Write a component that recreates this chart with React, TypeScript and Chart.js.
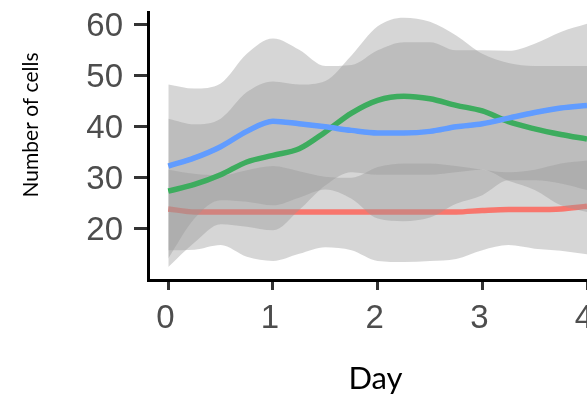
import React, { useEffect, useRef } from 'react';
import { Chart, registerables } from 'chart.js';

Chart.register(...registerables);

// Day positions of the sampled curves
const days = [0, 0.25, 0.5, 0.75, 1, 1.25, 1.5, 1.75, 2, 2.25, 2.5, 2.75, 3, 3.25, 3.5, 3.75, 4];

// Mean lines
const redMean = [23.8, 23.2, 23.2, 23.2, 23.2, 23.2, 23.2, 23.2, 23.2, 23.2, 23.2, 23.2, 23.5, 23.7, 23.7, 23.8, 24.3];
const greenMean = [27.3, 28.6, 30.5, 33.0, 34.3, 35.6, 38.9, 42.6, 45.1, 45.9, 45.4, 44.1, 43.0, 40.9, 39.5, 38.4, 37.5];
const blueMean = [32.2, 33.8, 36.0, 39.0, 41.0, 40.5, 39.9, 39.2, 38.7, 38.7, 39.0, 39.9, 40.5, 41.6, 42.7, 43.6, 44.1];

// Confidence ribbons
const redLower = [15.7, 15.8, 16.7, 14.4, 13.6, 15.0, 16.3, 15.7, 13.6, 13.4, 13.6, 14.0, 15.7, 16.7, 16.0, 15.6, 14.9];
const redUpper = [31.5, 30.7, 30.4, 31.4, 32.2, 31.2, 30.1, 29.9, 32.0, 32.7, 32.7, 32.2, 31.5, 31.0, 31.5, 32.7, 33.3];
const greenLower = [12.4, 17.2, 20.8, 20.3, 19.6, 23.6, 28.4, 31.0, 30.5, 30.5, 30.5, 31.0, 31.5, 29.3, 27.5, 24.5, 23.2];
const greenUpper = [41.5, 40.4, 41.5, 46.7, 48.8, 48.2, 48.9, 53.9, 59.6, 61.3, 60.5, 57.8, 54.2, 52.4, 51.8, 51.8, 51.8];
const blueLower = [14.1, 21.9, 25.5, 25.2, 24.5, 26.0, 27.6, 25.8, 21.9, 21.4, 22.1, 24.8, 26.5, 29.4, 29.4, 28.8, 27.5];
const blueUpper = [48.2, 47.4, 48.4, 54.2, 57.2, 55.0, 51.8, 52.0, 54.9, 56.5, 56.5, 54.9, 54.9, 54.8, 56.2, 58.5, 60.1];

// Axes
const xTicks = [0, 1, 2, 3, 4];
const yTicks = [20, 30, 40, 50, 60];
const xTitle = 'Day';
const yTitle = 'Number of cells';

const pts = (arr: number[]) => days.map((d, i) => ({ x: d, y: arr[i] }));

export default function App() {
  const ref = useRef<HTMLCanvasElement>(null);

  useEffect(() => {
    if (!ref.current) return;
    const ribbon = 'rgba(153,153,153,0.4)';
    const lo = (data: number[]) => ({
      data: pts(data), borderWidth: 0, borderColor: 'rgba(0,0,0,0)', backgroundColor: 'rgba(0,0,0,0)',
      pointRadius: 0, fill: false, order: 7,
    });
    const hi = (data: number[], order: number) => ({
      data: pts(data), borderWidth: 0, borderColor: 'rgba(0,0,0,0)', backgroundColor: ribbon,
      pointRadius: 0, fill: '-1', order,
    });
    const line = (data: number[], color: string, order: number) => ({
      data: pts(data), borderColor: color, backgroundColor: color, borderWidth: 5.5,
      pointRadius: 0, fill: false, order,
    });

    const titles = {
      id: 'axisTitles',
      afterDraw(chart: any) {
        const ctx = chart.ctx;
        ctx.save();
        ctx.fillStyle = '#000000';
        ctx.textAlign = 'center';
        ctx.textBaseline = 'alphabetic';
        ctx.font = '31px Lato';
        ctx.fillText(xTitle, 375.5, 389);
        ctx.translate(38, 125);
        ctx.rotate(-Math.PI / 2);
        ctx.font = '21px Lato';
        ctx.fillText(yTitle, 0, 0);
        ctx.restore();
      },
    };

    const zeroPad = (s: any) => {
      s.paddingLeft = 0; s.paddingRight = 0; s.paddingTop = 0; s.paddingBottom = 0;
    };

    const chart = new Chart(ref.current, {
      type: 'line',
      data: {
        datasets: [
          lo(redLower), hi(redUpper, 6), line(redMean, '#F8766D', 5),
          lo(greenLower), hi(greenUpper, 4), line(greenMean, '#00BA38', 3),
          lo(blueLower), hi(blueUpper, 2), line(blueMean, '#619CFF', 1),
        ] as any,
      },
      options: {
        animation: false,
        responsive: false,
        layout: { padding: { top: 12, left: 0, right: 0, bottom: 0 } },
        elements: { line: { cubicInterpolationMode: 'monotone' } },
        plugins: { legend: { display: false }, tooltip: { enabled: false } },
        scales: {
          x: {
            type: 'linear',
            min: -0.194,
            max: 4.0,
            afterBuildTicks: (s: any) => { s.ticks = xTicks.map((v) => ({ value: v })); },
            afterFit: (s: any) => { s.height = 117; zeroPad(s); },
            grid: { drawOnChartArea: false, drawTicks: true, tickLength: 10, tickWidth: 3, tickColor: '#333333' },
            border: { display: true, color: '#000000', width: 3 },
            ticks: {
              font: { family: '"Liberation Sans", Arial, sans-serif', size: 33 },
              color: '#4d4d4d', padding: 9, labelOffset: -3, maxRotation: 0, autoSkip: false,
            },
          },
          y: {
            type: 'linear',
            min: 9.86,
            max: 62.41,
            afterBuildTicks: (s: any) => { s.ticks = yTicks.map((v) => ({ value: v })); },
            afterFit: (s: any) => { s.width = 148; zeroPad(s); },
            grid: { drawOnChartArea: false, drawTicks: true, tickLength: 14, tickWidth: 3, tickColor: '#333333' },
            border: { display: true, color: '#000000', width: 3 },
            ticks: {
              font: { family: '"Liberation Sans", Arial, sans-serif', size: 33 },
              color: '#4d4d4d', padding: 11, labelOffset: 3, autoSkip: false,
            },
          },
        },
      } as any,
      plugins: [titles],
    });
    return () => chart.destroy();
  }, []);

  return (
    <div style={{ position: 'fixed', left: 0, top: 0, width: 587, height: 397, background: '#ffffff' }}>
      <canvas ref={ref} width={587} height={397} style={{ display: 'block' }} />
    </div>
  );
}
